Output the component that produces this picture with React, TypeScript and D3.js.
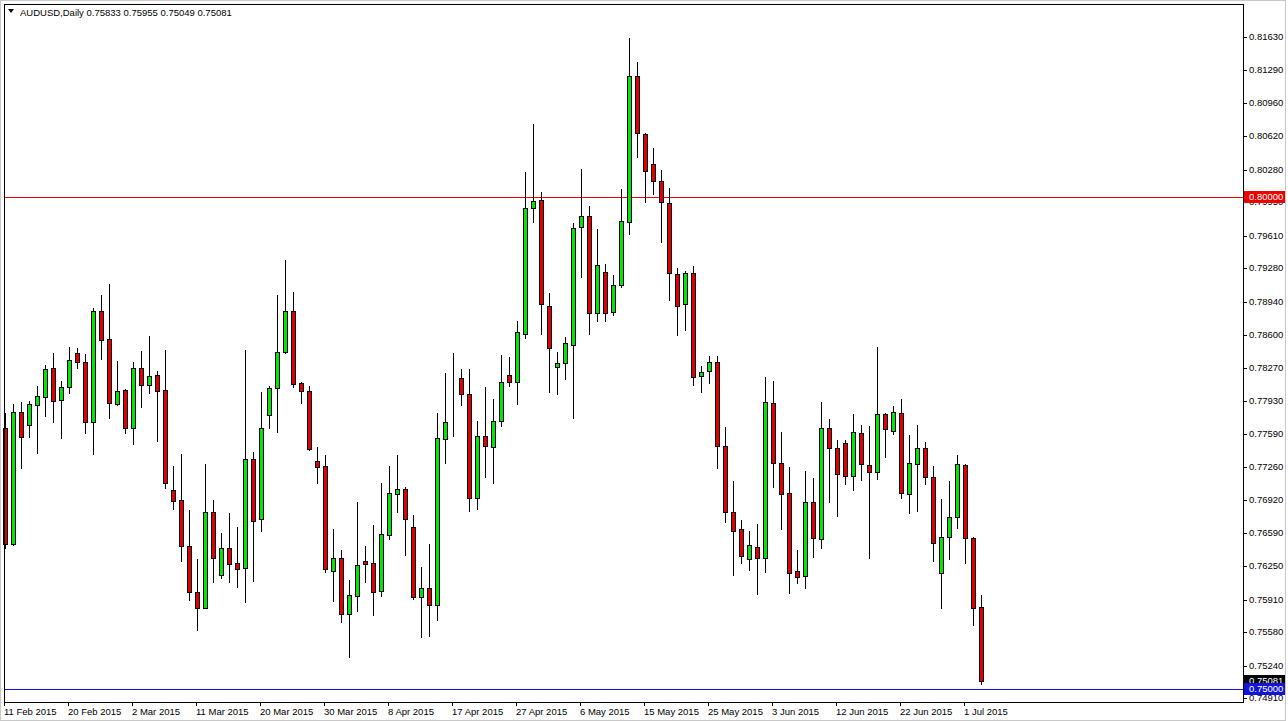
import React from "react";
import * as d3 from "d3";

// AUDUSD daily candles, 11 Feb 2015 .. early Jul 2015 (one candle per trading day, Sun-Fri)
const open = [
  0.7766, 0.7648, 0.7782, 0.7769, 0.7789, 0.7797, 0.7826, 0.7794, 0.7807, 0.7842,
  0.7833, 0.7772, 0.7884, 0.7856, 0.779, 0.7804, 0.7766, 0.7826, 0.7809, 0.7819,
  0.7804, 0.7702, 0.7692, 0.7646, 0.7599, 0.7583, 0.768, 0.7616, 0.7644, 0.7628,
  0.7623, 0.7734, 0.7673, 0.7779, 0.7806, 0.7843, 0.7884, 0.7811, 0.7803, 0.7732,
  0.7727, 0.762, 0.7633, 0.7576, 0.7595, 0.763, 0.7628, 0.76, 0.7657, 0.7698,
  0.7703, 0.7665, 0.7594, 0.7603, 0.7586, 0.7754, 0.7772, 0.7816, 0.78, 0.7694,
  0.7757, 0.7746, 0.7773, 0.7819, 0.7812, 0.7861, 0.7989, 0.7997, 0.789, 0.7828,
  0.7832, 0.785, 0.797, 0.7981, 0.7882, 0.7924, 0.7883, 0.7911, 0.7975, 0.8123,
  0.8064, 0.8034, 0.8017, 0.7994, 0.7922, 0.7892, 0.7923, 0.7818, 0.7823, 0.7833,
  0.7747, 0.768, 0.7663, 0.7632, 0.7645, 0.7633, 0.7791, 0.773, 0.7699, 0.762,
  0.7615, 0.769, 0.7653, 0.7765, 0.7745, 0.775, 0.7717, 0.776, 0.7728, 0.7721,
  0.778, 0.7762, 0.7781, 0.7698, 0.7729, 0.7745, 0.7716, 0.7618, 0.7655, 0.7675,
  0.7728, 0.7654, 0.75833,
];
const high = [
  0.7781, 0.779, 0.7792, 0.7793, 0.7808, 0.783, 0.7842, 0.7813, 0.7848, 0.7847,
  0.7841, 0.7887, 0.7901, 0.7912, 0.7834, 0.7805, 0.7833, 0.7844, 0.7859, 0.7823,
  0.7845, 0.7727, 0.7739, 0.7682, 0.7632, 0.7729, 0.7692, 0.7659, 0.7679, 0.7665,
  0.7845, 0.7741, 0.7802, 0.7808, 0.7901, 0.7936, 0.7904, 0.7812, 0.7808, 0.7746,
  0.7738, 0.7663, 0.7641, 0.7611, 0.769, 0.7646, 0.7667, 0.771, 0.7727, 0.7738,
  0.7706, 0.7677, 0.7624, 0.7648, 0.7781, 0.7821, 0.7842, 0.7825, 0.7825, 0.7773,
  0.7807, 0.7795, 0.784, 0.7838, 0.7874, 0.8026, 0.8075, 0.8005, 0.7903, 0.7843,
  0.7858, 0.7974, 0.8029, 0.7991, 0.7968, 0.7932, 0.7921, 0.8008, 0.8162, 0.8138,
  0.8065, 0.805, 0.8028, 0.8009, 0.7928, 0.7925, 0.793, 0.7829, 0.7839, 0.7839,
  0.7767, 0.7712, 0.7672, 0.7661, 0.7668, 0.7817, 0.7813, 0.7761, 0.7726, 0.7641,
  0.7722, 0.7715, 0.7792, 0.7775, 0.7753, 0.7753, 0.778, 0.7769, 0.7768, 0.7848,
  0.7781, 0.7788, 0.7795, 0.7758, 0.7769, 0.7751, 0.7727, 0.7693, 0.7712, 0.7738,
  0.7729, 0.7655, 0.75955,
];
const low = [
  0.7643, 0.7647, 0.7725, 0.7756, 0.774, 0.7778, 0.7772, 0.7755, 0.7801, 0.7826,
  0.776, 0.7739, 0.7836, 0.7776, 0.7789, 0.776, 0.7749, 0.7787, 0.7801, 0.7752,
  0.7704, 0.7683, 0.763, 0.7591, 0.756, 0.7582, 0.7609, 0.7613, 0.7609, 0.7604,
  0.7589, 0.761, 0.7661, 0.7766, 0.7761, 0.7842, 0.7807, 0.7791, 0.7743, 0.771,
  0.7619, 0.759, 0.7568, 0.7533, 0.7579, 0.7609, 0.7575, 0.7595, 0.7653, 0.768,
  0.7636, 0.7592, 0.7553, 0.7554, 0.757, 0.773, 0.7757, 0.7789, 0.7681, 0.7683,
  0.7716, 0.771, 0.7768, 0.7808, 0.779, 0.7857, 0.7975, 0.7861, 0.7802, 0.78,
  0.7815, 0.7776, 0.7919, 0.7861, 0.7874, 0.7874, 0.788, 0.7909, 0.7963, 0.8041,
  0.7995, 0.8003, 0.7955, 0.7896, 0.786, 0.7865, 0.7809, 0.7802, 0.7811, 0.7725,
  0.767, 0.7616, 0.7628, 0.7621, 0.7597, 0.7619, 0.7706, 0.7663, 0.7598, 0.7608,
  0.7603, 0.7634, 0.7643, 0.769, 0.7676, 0.7709, 0.7702, 0.7713, 0.7633, 0.7714,
  0.7736, 0.7759, 0.7694, 0.7679, 0.7681, 0.7709, 0.763, 0.7583, 0.7632, 0.7664,
  0.7628, 0.7565, 0.75049,
];
const close = [
  0.7648, 0.7782, 0.7756, 0.779, 0.7798, 0.7825, 0.7793, 0.7807, 0.7835, 0.7833,
  0.7772, 0.7884, 0.7855, 0.7791, 0.7803, 0.7766, 0.7826, 0.7809, 0.7818, 0.7803,
  0.771, 0.7691, 0.7646, 0.7599, 0.7583, 0.768, 0.7633, 0.7644, 0.7627, 0.7622,
  0.7734, 0.7671, 0.7765, 0.7806, 0.7843, 0.7884, 0.781, 0.7803, 0.7744, 0.7726,
  0.7622, 0.7633, 0.7576, 0.7596, 0.7626, 0.7627, 0.7599, 0.7658, 0.7699, 0.7703,
  0.7673, 0.7594, 0.7603, 0.7586, 0.7755, 0.7772, 0.7772, 0.78, 0.7694, 0.7757,
  0.7747, 0.7773, 0.7812, 0.7812, 0.7863, 0.7989, 0.7996, 0.7892, 0.7847, 0.7832,
  0.7852, 0.7969, 0.7981, 0.7882, 0.7931, 0.7882, 0.7911, 0.7976, 0.8123, 0.8065,
  0.8027, 0.8017, 0.7995, 0.7923, 0.789, 0.7923, 0.7817, 0.7822, 0.7833, 0.7747,
  0.768, 0.7661, 0.7635, 0.7647, 0.7633, 0.7792, 0.773, 0.7698, 0.7618, 0.7614,
  0.769, 0.7654, 0.7765, 0.7745, 0.7719, 0.7717, 0.7761, 0.7729, 0.7721, 0.778,
  0.7764, 0.7782, 0.7699, 0.773, 0.7745, 0.7716, 0.7649, 0.7655, 0.7675, 0.7729,
  0.7654, 0.7583, 0.75081,
];

// date labels, one every 8 candles
const dateLabels = [
  "11 Feb 2015", "20 Feb 2015", "2 Mar 2015", "11 Mar 2015", "20 Mar 2015",
  "30 Mar 2015", "8 Apr 2015", "17 Apr 2015", "27 Apr 2015", "6 May 2015",
  "15 May 2015", "25 May 2015", "3 Jun 2015", "12 Jun 2015", "22 Jun 2015",
  "1 Jul 2015",
];
const labelStep = 8;

const priceTicks = [
  0.8163, 0.8129, 0.8096, 0.8062, 0.8028, 0.7995, 0.7961, 0.7928, 0.7894,
  0.786, 0.7827, 0.7793, 0.7759, 0.7726, 0.7692, 0.7659, 0.7625, 0.7591,
  0.7558, 0.7524, 0.7491,
];

const resistance = 0.8;
const support = 0.75;
const header = "AUDUSD,Daily  0.75833 0.75955 0.75049 0.75081";

const W = 1288;
const H = 721;
const frame = { left: 4, top: 4, right: 1243, bottom: 702 };
const FONT = "'Liberation Sans', Arial, sans-serif";
const BULL = "#00e600";
const BEAR = "#e00000";
const RES_COLOR = "#ee0000";
const SUP_COLOR = "#1414d8";

export default function App() {
  const x = d3.scaleLinear().domain([0, 154]).range([5, 5 + 8 * 154]);
  const y = d3.scaleLinear().domain([0.7491, 0.8163]).range([698, 37]);
  const py = (v: number) => Math.round(y(v));

  const candles = open.map((o, i) => ({ i, o, h: high[i], l: low[i], c: close[i] }));
  const last = close[close.length - 1];

  return (
    <svg
      width={W}
      height={H}
      style={{ position: "fixed", left: 0, top: 0, background: "#fff" }}
      fontFamily={FONT}
    >
      <rect x={0} y={0} width={W} height={H} fill="#fff" />
      <rect x={0.5} y={0.5} width={W - 3} height={H - 1} fill="none" stroke="#c8c8c8" />

      {/* header */}
      <path d="M8,9 L14,9 L11,13 Z" fill="#000" />
      <text x={20} y={15.5} fontSize={9.5} fill="#000">
        {header}
      </text>

      {/* horizontal levels (behind candles) */}
      <rect x={frame.left} y={py(resistance)} width={frame.right - frame.left} height={1} fill={RES_COLOR} />
      <rect x={frame.left} y={py(support)} width={frame.right - frame.left} height={1} fill={SUP_COLOR} />

      {/* candles */}
      <g shapeRendering="crispEdges">
        {candles.map((d) => {
          const cx = Math.round(x(d.i));
          const top = py(Math.max(d.o, d.c));
          const bot = py(Math.min(d.o, d.c));
          return (
            <g key={d.i}>
              <line x1={cx + 0.5} x2={cx + 0.5} y1={py(d.h)} y2={py(d.l) + 1} stroke="#000" />
              <rect
                x={cx - 1.5}
                y={top + 0.5}
                width={4}
                height={Math.max(0, bot - top)}
                fill={d.c >= d.o ? BULL : BEAR}
                stroke="#000"
              />
            </g>
          );
        })}
      </g>

      {/* frame */}
      <rect
        x={frame.left + 0.5}
        y={frame.top + 0.5}
        width={frame.right - frame.left}
        height={frame.bottom - frame.top}
        fill="none"
        stroke="#000"
        shapeRendering="crispEdges"
      />

      {/* price axis */}
      <g fontSize={9.5} fill="#000">
        {priceTicks.map((t) => (
          <g key={t}>
            <line x1={frame.right} x2={frame.right + 4} y1={py(t) + 0.5} y2={py(t) + 0.5} stroke="#000" shapeRendering="crispEdges" />
            <text x={frame.right + 6} y={py(t)} dy="0.35em">
              {t.toFixed(5)}
            </text>
          </g>
        ))}
      </g>

      {/* level labels */}
      <g fontSize={9.5}>
        <rect x={frame.right + 1} y={py(resistance) - 6} width={41} height={12} fill={RES_COLOR} />
        <text x={frame.right + 6} y={py(resistance)} dy="0.35em" fill="#fff">
          {resistance.toFixed(5)}
        </text>
        <rect x={frame.right + 1} y={py(last) - 6} width={41} height={12} fill="#000" />
        <text x={frame.right + 6} y={py(last)} dy="0.35em" fill="#fff">
          {last.toFixed(5)}
        </text>
        <rect x={frame.right + 1} y={py(support) - 6} width={41} height={12} fill={SUP_COLOR} />
        <text x={frame.right + 6} y={py(support)} dy="0.35em" fill="#fff">
          {support.toFixed(5)}
        </text>
      </g>

      {/* date axis */}
      <g fontSize={9.5} fill="#000">
        {dateLabels.map((lab, k) => {
          const cx = Math.round(x(k * labelStep));
          return (
            <g key={lab}>
              <line x1={cx - 0.5} x2={cx - 0.5} y1={frame.bottom} y2={frame.bottom + 4} stroke="#000" shapeRendering="crispEdges" />
              <text x={cx - 1} y={715}>
                {lab}
              </text>
            </g>
          );
        })}
      </g>
    </svg>
  );
}
